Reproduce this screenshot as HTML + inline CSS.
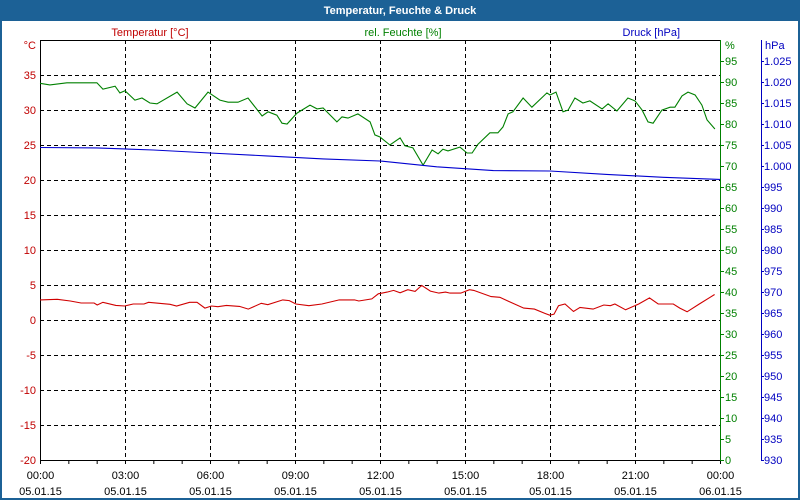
<!DOCTYPE html>
<html><head><meta charset="utf-8">
<style>
html,body{margin:0;padding:0;background:#fff}
#wrap{position:relative;width:800px;height:500px;overflow:hidden;font-family:"Liberation Sans",sans-serif}
svg text{font-family:"Liberation Sans",sans-serif;font-size:11px}
</style></head>
<body>
<div id="wrap">
<svg id="chart" width="800" height="500" xmlns="http://www.w3.org/2000/svg">
<rect x="0" y="0" width="800" height="500" fill="#1c6196"/>
<rect x="2" y="21" width="796" height="477" fill="#ffffff"/>
<text x="400" y="14" text-anchor="middle" fill="#fff" font-weight="bold">Temperatur, Feuchte &amp; Druck</text>
<text x="150" y="36" text-anchor="middle" fill="#c00000">Temperatur [°C]</text>
<text x="403" y="36" text-anchor="middle" fill="#008000">rel. Feuchte [%]</text>
<text x="680" y="36" text-anchor="end" fill="#0000c0">Druck [hPa]</text>
<g id="grid"></g>
<g id="axes"></g>
<g id="series"></g>
</svg>
</div>
<script>
// ---- data ----
const humT = [0,.35,.95,2.01,2.22,2.65,2.82,3.0,3.35,3.6,3.88,4.13,4.84,5.19,5.47,5.93,6.35,6.64,6.99,7.34,7.84,8.05,8.36,8.54,8.72,9.07,9.53,9.78,9.99,10.48,10.66,10.87,11.22,11.65,11.82,12.0,12.35,12.71,12.88,13.16,13.52,13.84,14.05,14.22,14.4,14.82,15.07,15.25,15.46,15.88,16.16,16.34,16.52,16.69,17.05,17.36,17.89,18.0,18.21,18.46,18.64,18.88,19.16,19.41,19.84,20.05,20.36,20.75,21.0,21.25,21.46,21.64,21.95,22.24,22.41,22.66,22.87,23.12,23.36,23.54,23.82];
const humV = [89.7,89.3,89.8,89.8,88.3,89.0,87.4,87.9,85.7,86.2,85.0,84.8,87.6,84.8,83.8,87.6,85.7,85.2,85.2,86.2,81.9,82.9,82.1,80.2,80.0,82.6,84.5,83.6,83.8,80.5,81.7,81.4,82.4,80.5,77.4,76.9,75.0,76.7,74.8,74.3,70.2,73.8,72.9,74.0,73.6,74.5,73.1,73.1,75.2,77.9,77.9,79.3,82.4,82.9,86.2,84.0,87.4,86.9,87.6,82.9,83.3,86.2,85.0,85.5,83.6,84.8,83.1,86.2,85.5,83.3,80.5,80.2,83.3,84.0,84.0,86.7,87.6,86.9,84.5,81.0,78.8];
const presT = [0,2,4,6,8,10,12,14,16,18,20,22,24];
const presV = [1004.4,1004.3,1003.8,1003.1,1002.4,1001.7,1001.2,999.8,998.9,998.8,998.0,997.3,996.8];
const tempT = [0,.61,1.07,1.45,1.91,2.02,2.22,2.68,2.99,3.29,3.67,3.83,4.59,4.82,5.28,5.54,5.82,6.05,6.28,6.58,7.04,7.35,7.81,8.04,8.57,8.80,9.03,9.49,9.95,10.56,11.10,11.25,11.71,11.94,12.25,12.48,12.71,12.98,13.24,13.47,13.78,14.08,14.31,14.47,14.85,15.16,15.31,15.92,16.23,16.53,17.07,17.45,17.84,17.99,18.14,18.30,18.53,18.83,19.06,19.52,19.90,20.13,20.29,20.67,21.13,21.51,21.82,22.35,22.58,22.84,23.27,23.65,23.81];
const tempV = [2.87,2.96,2.72,2.43,2.43,2.14,2.53,2.09,2.0,2.28,2.28,2.53,2.24,2.0,2.53,2.53,1.70,2.0,1.90,2.09,1.94,1.55,2.38,2.19,2.87,2.77,2.28,2.04,2.28,2.87,2.87,2.72,3.01,3.74,3.98,4.23,3.89,4.33,4.08,4.95,4.13,3.84,3.98,3.84,3.84,4.33,4.23,3.35,3.25,2.67,1.70,1.55,0.92,0.68,0.83,2.04,2.28,1.21,1.80,1.55,2.14,2.04,2.28,1.46,2.28,3.16,2.28,2.28,1.70,1.17,2.28,3.25,3.64];
const tempTicks = [-20,-15,-10,-5,0,5,10,15,20,25,30,35];
const humTicks = [0,5,10,15,20,25,30,35,40,45,50,55,60,65,70,75,80,85,90,95];
const presTicks = ["930","935","940","945","950","955","960","965","970","975","980","985","990","995","1.000","1.005","1.010","1.015","1.020","1.025"];
const timeLabels = ["00:00","03:00","06:00","09:00","12:00","15:00","18:00","21:00","00:00"];
const dateLabels = ["05.01.15","05.01.15","05.01.15","05.01.15","05.01.15","05.01.15","05.01.15","05.01.15","06.01.15"];

// ---- scales ----
const L=40,R=720,T=40,B=460;
const xS = h => L + h*(R-L)/24;
const yTemp = v => B - (v+20)*(B-T)/60;
const yHum = v => B - v*(B-T)/100;
const yPres = v => B - (v-930)*(B-T)/100;
const NS="http://www.w3.org/2000/svg";
function mk(tag, attrs, parent){const e=document.createElementNS(NS,tag);for(const k in attrs)e.setAttribute(k,attrs[k]);parent.appendChild(e);return e;}
const grid=document.getElementById('grid'), axes=document.getElementById('axes'), series=document.getElementById('series');

// horizontal gridlines
tempTicks.forEach(v=>{
  const y=yTemp(v)+0.5;
  if(v>-20){const g=mk('line',{x1:L,x2:R,y1:y,y2:y,stroke:'#000','stroke-dasharray':'4 3','stroke-width':1},grid);
  
  }
  const t=mk('text',{x:36,y:yTemp(v)+4,'text-anchor':'end',fill:'#c00000'},axes);
  t.textContent=v;
  
  
});
// vertical gridlines & labels
timeLabels.forEach((lab,i)=>{
  const x=xS(i*3)+0.5;
  if(i>0&&i<8){const g=mk('line',{x1:x,x2:x,y1:T,y2:B,stroke:'#000','stroke-dasharray':'4 3'},grid);
  
  }
  const t=mk('text',{x:x,y:479,'text-anchor':'middle',fill:'#000'},axes);
  t.textContent=lab;
  
  
  const d=mk('text',{x:x,y:495,'text-anchor':'middle',fill:'#000'},axes);
  d.textContent=dateLabels[i];
  
  
});
for(let h=0;h<=24;h++){
  const x=xS(h)+0.5;
  const tk=mk('line',{x1:x,x2:x,y1:B,y2:B+4,stroke:'#000'},axes);
  
  
}
// axis lines
const ax1=mk('path',{d:`M${L+0.5} ${T} V${B+0.5} H${R} M${L} ${T+0.5} H${R}`,stroke:'#000',fill:'none'},axes);


const ax2=mk('line',{x1:R+0.5,x2:R+0.5,y1:T,y2:B+1,stroke:'#008000'},axes);


const ax3=mk('line',{x1:761.5,x2:761.5,y1:T,y2:B+1,stroke:'#0000c0'},axes);


humTicks.forEach(v=>{
  const y=yHum(v);
  const tk=mk('line',{x1:R,x2:R+4,y1:y+0.5,y2:y+0.5,stroke:'#008000'},axes);
  
  
  const t=mk('text',{x:725,y:y+4,fill:'#008000'},axes);
  t.textContent=v;
  
  
});
presTicks.forEach((lab,i)=>{
  const y=yPres(930+i*5);
  const tk=mk('line',{x1:761,x2:764,y1:y+0.5,y2:y+0.5,stroke:'#0000c0'},axes);
  
  
  const t=mk('text',{x:764,y:y+4,fill:'#0000c0'},axes);
  t.textContent=lab;
  
  
});
const u1=mk('text',{x:36,y:49,'text-anchor':'end',fill:'#c00000'},axes);
u1.textContent='°C';


const u2=mk('text',{x:725,y:49,fill:'#008000'},axes);
u2.textContent='%';


const u3=mk('text',{x:765,y:49,fill:'#0000c0'},axes);
u3.textContent='hPa';



// series
function line(ts,vs,ys,col,name){
  const pts=ts.map((t,i)=>xS(t).toFixed(1)+','+ys(vs[i]).toFixed(1)).join(' ');
  const p=mk('polyline',{points:pts,fill:'none',stroke:col,'stroke-width':1.1},series);
  
  
}
line(humT,humV,yHum,'#008000','humidity-line');
line(presT,presV,yPres,'#0000d0','pressure-line');
line(tempT,tempV,yTemp,'#d00000','temperature-line');
</script>
</body></html>
